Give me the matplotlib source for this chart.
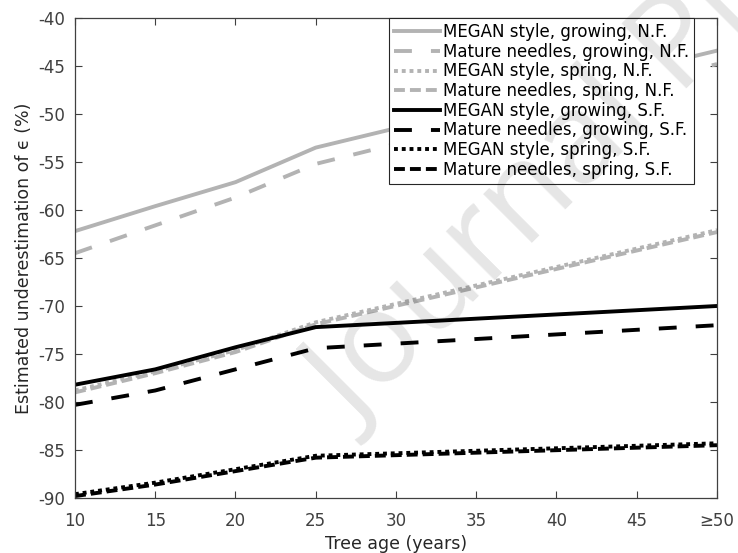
import numpy as np
import matplotlib
matplotlib.use('Agg')
import matplotlib.pyplot as plt

# tree age knots (years); the last one stands for >= 50
tree_age = [10, 15, 20, 25, 50]
xtick_vals = [10, 15, 20, 25, 30, 35, 40, 45, 50]
xtick_labels = ['10', '15', '20', '25', '30', '35', '40', '45', '≥50']

# estimated underestimation (%) per scenario
megan_growing_nf = [-62.2, -59.6, -57.1, -53.5, -43.4]
mature_growing_nf = [-64.5, -61.6, -58.7, -55.2, -44.8]
megan_spring_nf = [-78.8, -76.8, -74.6, -71.7, -62.1]
mature_spring_nf = [-79.0, -77.0, -74.8, -71.9, -62.3]
megan_growing_sf = [-78.2, -76.6, -74.3, -72.2, -70.0]
mature_growing_sf = [-80.3, -78.8, -76.6, -74.4, -72.0]
megan_spring_sf = [-89.6, -88.4, -87.0, -85.6, -84.3]
mature_spring_sf = [-89.8, -88.6, -87.2, -85.8, -84.5]

labels = ['MEGAN style, growing, N.F.', 'Mature needles, growing, N.F.',
          'MEGAN style, spring, N.F.', 'Mature needles, spring, N.F.',
          'MEGAN style, growing, S.F.', 'Mature needles, growing, S.F.',
          'MEGAN style, spring, S.F.', 'Mature needles, spring, S.F.']

grey = '#b3b3b3'
lw = 2.8
solid = None
dashed = (4.6, 4.9)
dotted = (1.0, 1.0)
short_dash = (2.8, 1.3)

series = [
    (megan_growing_nf, grey, solid),
    (mature_growing_nf, grey, dashed),
    (megan_spring_nf, grey, dotted),
    (mature_spring_nf, grey, short_dash),
    (megan_growing_sf, 'black', solid),
    (mature_growing_sf, 'black', dashed),
    (megan_spring_sf, 'black', dotted),
    (mature_spring_sf, 'black', short_dash),
]

axcol = '#404040'
plt.rcParams['font.family'] = 'DejaVu Sans'
plt.rcParams['axes.unicode_minus'] = False

fig = plt.figure(figsize=(7.38, 5.53), dpi=100)
ax = fig.add_axes([75 / 738, 1 - 498 / 553, (717 - 75) / 738, (498 - 18) / 553])

for (vals, col, pattern), lab in zip(series, labels):
    line, = ax.plot(tree_age, vals, color=col, lw=lw, label=lab)
    if pattern is not None:
        line.set_dashes(pattern)

ax.set_xlim(10, 50)
ax.set_ylim(-90, -40)
ax.set_xticks(xtick_vals)
ax.set_xticklabels(xtick_labels)
ax.set_yticks(np.arange(-90, -39, 5))
ax.tick_params(direction='in', length=5, width=0.8, top=True, right=True,
               colors=axcol, labelsize=12, labelcolor=axcol)
ax.tick_params(axis='x', pad=10)
ax.tick_params(axis='y', pad=7)
for sp in ax.spines.values():
    sp.set_color(axcol)
    sp.set_linewidth(0.9)

ax.set_xlabel('Tree age (years)', fontsize=12.5, color='#262626', labelpad=4)
ax.set_ylabel('Estimated underestimation of ϵ (%)', fontsize=12.5,
              color='#262626', labelpad=4)

leg = ax.legend(loc='upper right', bbox_to_anchor=(0.964, 1.0), fontsize=12,
                frameon=True, fancybox=False, framealpha=1, edgecolor='#262626',
                handlelength=2.8, handletextpad=0.15, labelspacing=0.1,
                borderpad=0.3, borderaxespad=0.0)
leg.get_frame().set_linewidth(0.8)

# watermark over the axes
fig.text(355 / 738, 1 - 430 / 553, 'Journal Pre-proof', family='Open Sans',
         fontsize=93, color='black', alpha=0.1, rotation=45,
         rotation_mode='anchor', ha='left', va='baseline', zorder=10)

fig.savefig('out.png', dpi=100)
